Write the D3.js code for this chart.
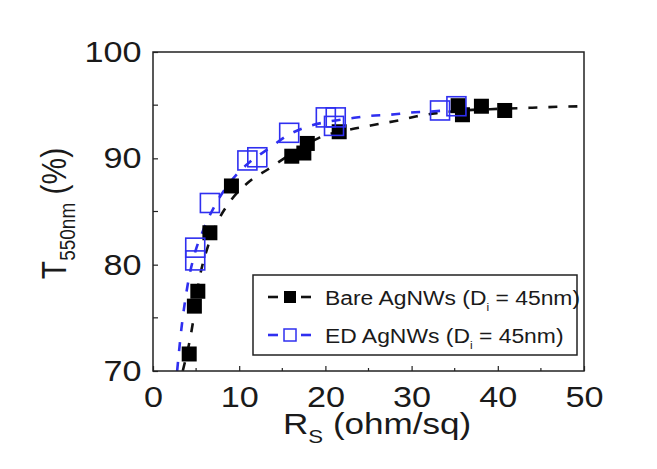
<!DOCTYPE html>
<html><head><meta charset="utf-8">
<script src="https://cdn.jsdelivr.net/npm/d3@7"></script>
<style>
html,body{margin:0;padding:0;background:#fff;}
text{font-family:"Liberation Sans",Arial,sans-serif;fill:#1a1a1a;}
</style></head>
<body><svg id="c" width="657" height="469"></svg>
<script>
// Bare AgNWs (filled squares)
const bareX = [4.2, 4.8, 5.2, 6.6, 9.1, 16.1, 17.5, 17.9, 21.6, 35.4, 35.9, 38.1, 40.8];
const bareY = [71.6, 76.1, 77.5, 83.0, 87.4, 90.2, 90.5, 91.4, 92.5, 94.95, 94.1, 94.9, 94.5];
// ED AgNWs (open squares)
const edX = [4.9, 4.9, 6.6, 10.95, 12.1, 15.8, 20.05, 21.2, 21.0, 33.3, 35.2];
const edY = [81.6, 80.4, 85.8, 89.8, 90.1, 92.4, 93.85, 93.85, 93.05, 94.5, 94.9];
// dashed fit curves
const bareFitX = [3.45, 4.56, 5.3, 6.4, 7.6, 8.9, 11.0, 13.4, 16.0, 19.2, 23.4, 26.0, 28.7, 30.6, 32.9, 36.0, 40.0, 44.0, 47.0, 50.0];
const bareFitY = [70.0, 74.2, 78.3, 81.8, 84.2, 85.9, 87.7, 89.0, 90.4, 91.9, 92.8, 93.2, 93.6, 93.95, 94.25, 94.5, 94.65, 94.76, 94.85, 94.9];
const edFitX = [2.8, 3.3, 4.0, 4.9, 5.8, 7.2, 9.0, 11.0, 13.4, 15.7, 18.0, 20.0, 22.9, 25.2, 27.5, 29.8, 32.1, 35.5];
const edFitY = [70.0, 74.0, 78.0, 81.2, 83.2, 85.6, 87.8, 89.5, 90.9, 92.2, 93.0, 93.4, 93.76, 94.0, 94.1, 94.3, 94.4, 94.6];
// axes
const xTicks = [0, 10, 20, 30, 40, 50];
const xMinor = [5, 15, 25, 35, 45];
const yTicks = [70, 80, 90, 100];
const yMinor = [75, 85, 95];
const legendLabels = ["Bare AgNWs (D", "ED AgNWs (D"];

const svg = d3.select("#c");
const L = 153, T = 52, W = 431, H = 319;
const x = d3.scaleLinear().domain([0, 50]).range([L, L + W]);
const y = d3.scaleLinear().domain([70, 100]).range([T + H, T]);
const blue = "#2f2ff0";
const dash = "9,11";
const SX = 1.14; // horizontal stretch of the lettering

const g = svg.append("g");
svg.append("clipPath").attr("id", "pc").append("rect")
  .attr("x", L).attr("y", T).attr("width", W).attr("height", H);

// fit lines
const line = d3.line().x((d) => x(d[0])).y((d) => y(d[1])).curve(d3.curveMonotoneX);
g.append("path").datum(bareFitX.map((v, i) => [v, bareFitY[i]]))
  .attr("d", line).attr("fill", "none").attr("stroke", "#111")
  .attr("stroke-width", 2.6).attr("stroke-dasharray", dash).attr("clip-path", "url(#pc)");
g.append("path").datum(edFitX.map((v, i) => [v, edFitY[i]]))
  .attr("d", line).attr("fill", "none").attr("stroke", blue)
  .attr("stroke-width", 2.6).attr("stroke-dasharray", dash).attr("clip-path", "url(#pc)");

// markers
const bs = 15, es = 19;
g.selectAll(".b").data(bareX.map((v, i) => [v, bareY[i]])).enter().append("rect")
  .attr("x", (d) => x(d[0]) - bs / 2).attr("y", (d) => y(d[1]) - bs / 2)
  .attr("width", bs).attr("height", bs).attr("fill", "#000").attr("clip-path", "url(#pc)");
g.selectAll(".e").data(edX.map((v, i) => [v, edY[i]])).enter().append("rect")
  .attr("x", (d) => x(d[0]) - es / 2).attr("y", (d) => y(d[1]) - es / 2)
  .attr("width", es).attr("height", es).attr("fill", "none")
  .attr("stroke", blue).attr("stroke-width", 1.6);

// frame
svg.append("rect").attr("x", L).attr("y", T).attr("width", W).attr("height", H)
  .attr("fill", "none").attr("stroke", "#222").attr("stroke-width", 1.5);

// x axis
const xa = svg.append("g").attr("transform", `translate(0,${T + H})`)
  .call(d3.axisBottom(x).tickValues(xTicks).tickSizeInner(-5).tickSizeOuter(0).tickFormat(d3.format("d")));
xa.select(".domain").remove();
xa.selectAll("line").attr("stroke", "#222").attr("stroke-width", 1.2);
xa.selectAll("text").attr("font-size", 30).attr("dy", null).attr("y", 36).attr("transform", `scale(${SX},1)`);
svg.append("g").selectAll("line").data(xMinor).enter().append("line")
  .attr("x1", (d) => x(d)).attr("x2", (d) => x(d)).attr("y1", T + H).attr("y2", T + H - 3)
  .attr("stroke", "#222").attr("stroke-width", 1.2);

// y axis
const ya = svg.append("g").attr("transform", `translate(${L},0)`)
  .call(d3.axisLeft(y).tickValues(yTicks).tickSizeInner(-5).tickSizeOuter(0).tickFormat(d3.format("d")));
ya.select(".domain").remove();
ya.selectAll("line").attr("stroke", "#222").attr("stroke-width", 1.2);
ya.selectAll("text").attr("font-size", 30).attr("x", -11.5 / SX).attr("transform", `scale(${SX},1)`);
svg.append("g").selectAll("line").data(yMinor).enter().append("line")
  .attr("y1", (d) => y(d)).attr("y2", (d) => y(d)).attr("x1", L).attr("x2", L + 5)
  .attr("stroke", "#222").attr("stroke-width", 1.2);

// axis titles
const xt = svg.append("text").attr("transform", `translate(283,434) scale(1.17,1)`).attr("font-size", 30);
xt.append("tspan").text("R");
xt.append("tspan").attr("font-size", 19).attr("dy", 9).text("S");
xt.append("tspan").attr("dy", -9).text(" (ohm/sq)");

const yt = svg.append("text").attr("transform", `translate(66,${T + H / 2 + 2}) scale(${SX},1) rotate(-90)`)
  .attr("text-anchor", "middle").attr("font-size", 30);
yt.append("tspan").text("T");
yt.append("tspan").attr("font-size", 19).attr("dy", 8).text("550nm");
yt.append("tspan").attr("dy", -8).text(" (%)");

// legend
const lg = svg.append("g");
lg.append("rect").attr("x", 253).attr("y", 275).attr("width", 324).attr("height", 80)
  .attr("fill", "#fff").attr("stroke", "#222").attr("stroke-width", 1.5);
const rows = [{c: "#111", fill: "#000", lab: legendLabels[0], ry: 297},
              {c: blue, fill: "none", lab: legendLabels[1], ry: 335}];
rows.forEach((r) => {
  lg.append("line").attr("x1", 268).attr("x2", 278).attr("y1", r.ry).attr("y2", r.ry).attr("stroke", r.c).attr("stroke-width", 2.6);
  lg.append("line").attr("x1", 301).attr("x2", 311).attr("y1", r.ry).attr("y2", r.ry).attr("stroke", r.c).attr("stroke-width", 2.6);
  lg.append("rect").attr("x", 284).attr("y", r.ry - 6).attr("width", 12).attr("height", 12)
    .attr("fill", r.fill).attr("stroke", r.fill === "none" ? r.c : "none").attr("stroke-width", 1.5);
  const t = lg.append("text").attr("transform", `translate(325,${r.ry + 8}) scale(1.09,1)`).attr("font-size", 21).attr("fill", "#2a2a2a");
  t.append("tspan").text(r.lab);
  t.append("tspan").attr("font-size", 11).attr("dy", 6).text("i");
  t.append("tspan").attr("dy", -6).text(" = 45nm)");
});
</script></body></html>
